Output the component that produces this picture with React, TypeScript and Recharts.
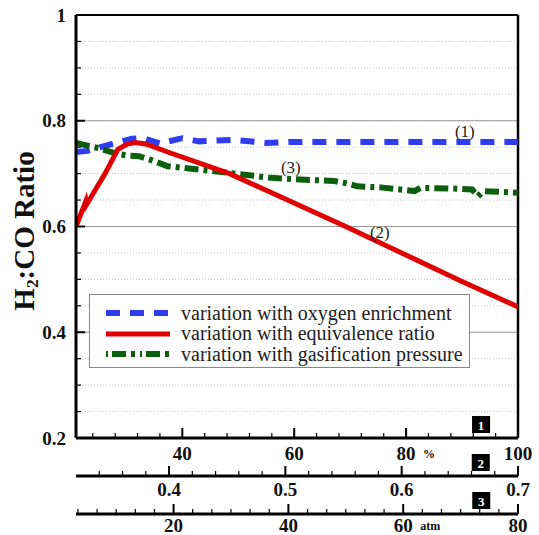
import {
  LineChart,
  Line,
  XAxis,
  YAxis,
  CartesianGrid,
  ReferenceLine,
  ReferenceDot,
} from "recharts";

const FONT = "'Liberation Serif', 'Times New Roman', serif";

// (1) oxygen enrichment, %
const oxygenPct = [21, 23, 27, 31, 33, 36, 40, 43, 49, 55, 60, 70, 80, 90, 100];
const oxygenH2CO = [0.741, 0.743, 0.755, 0.766, 0.767, 0.757, 0.767, 0.761, 0.764, 0.758, 0.76, 0.76, 0.76, 0.76, 0.76];

// (2) equivalence ratio
const eqRatio = [0.32, 0.3285, 0.329, 0.345, 0.356, 0.364, 0.371, 0.38, 0.4, 0.452, 0.5, 0.55, 0.6, 0.65, 0.7];
const eqH2CO = [0.6, 0.648, 0.641, 0.7, 0.746, 0.756, 0.759, 0.756, 0.74, 0.7, 0.652, 0.602, 0.55, 0.498, 0.448];

// (3) gasification pressure, atm
const pressureAtm = [3, 7, 10, 12, 14, 16, 19, 25, 30, 37, 42, 48, 50, 52, 56, 62, 63, 68, 72, 73, 74, 80];
const pressureH2CO = [0.758, 0.748, 0.738, 0.734, 0.733, 0.726, 0.714, 0.707, 0.701, 0.692, 0.689, 0.686, 0.682, 0.676, 0.674, 0.667, 0.673, 0.672, 0.67, 0.657, 0.667, 0.664];

// ticks
const yTicks = [0.2, 0.25, 0.3, 0.35, 0.4, 0.45, 0.5, 0.55, 0.6, 0.65, 0.7, 0.75, 0.8, 0.85, 0.9, 0.95, 1];
const yMajor = [0.2, 0.4, 0.6, 0.8, 1];
const yGridMajor = [0.4, 0.6, 0.8];

const pctMajor = [40, 60, 80, 100];
const pctMinor = [24, 28, 32, 36, 44, 48, 52, 56, 64, 68, 72, 76, 84, 88, 92, 96];
const erMajor = [0.4, 0.5, 0.6, 0.7];
const erMinor = [0.34, 0.36, 0.38, 0.42, 0.44, 0.46, 0.48, 0.52, 0.54, 0.56, 0.58, 0.62, 0.64, 0.66, 0.68];
const atmMajor = [20, 40, 60, 80];
const atmMinor = [3.33, 6.67, 10, 13.33, 16.67, 23.33, 26.67, 30, 33.33, 36.67, 43.33, 46.67, 50, 53.33, 56.67, 63.33, 66.67, 70, 73.33, 76.67];

// numbered boxes sit near the right end of each axis
const boxPct = 93.4;
const boxEr = 0.668;
const boxAtm = 73.6;

const zip = (xs: number[], ys: number[]) => xs.map((x, i) => ({ x, y: ys[i] }));

const oxygenData = zip(oxygenPct, oxygenH2CO);
const eqData = zip(eqRatio, eqH2CO);
const pressureData = zip(pressureAtm, pressureH2CO);

const BLUE = "#2f3cf0";
const RED = "#e00000";
const GREEN = "#0b5e0b";

// bottom axes are stacked by id: x1 nearest the plot, x3 farthest
const PCT = "x1";
const ER = "x2";
const ATM = "x3";

type TickCfg = {
  major: number[];
  box: number;
  boxLabel: string;
  unitAt?: number;
  unit?: string;
  dy: number;
};

const renderXTick = (props: any, cfg: TickCfg) => {
  const { x, y, payload } = props;
  const v = payload.value;
  if (v === cfg.box) {
    return (
      <g>
        <rect x={x - 9} y={y - 22} width={18} height={17} fill="#000" />
        <text
          x={x}
          y={y - 13}
          textAnchor="middle"
          dominantBaseline="central"
          fill="#fff"
          fontFamily={FONT}
          fontWeight="bold"
          fontSize={13}
        >
          {cfg.boxLabel}
        </text>
      </g>
    );
  }
  const major = cfg.major.includes(v);
  return (
    <g>
      <line
        x1={x}
        x2={x}
        y1={y}
        y2={y - (major ? 10 : 5)}
        stroke="#000"
        strokeWidth={major ? 2 : 1.2}
      />
      {major && (
        <text
          x={x}
          y={y + cfg.dy}
          textAnchor="middle"
          dominantBaseline="central"
          fill="#111"
          fontFamily={FONT}
          fontWeight="bold"
          fontSize={19}
        >
          {String(v)}
        </text>
      )}
      {major && cfg.unitAt === v && (
        <text
          x={x + 17}
          y={y + cfg.dy + 1}
          textAnchor="start"
          dominantBaseline="central"
          fill="#111"
          fontFamily={FONT}
          fontWeight="bold"
          fontSize={12}
        >
          {cfg.unit}
        </text>
      )}
    </g>
  );
};

const renderYTick = (props: any) => {
  const { x, y, payload } = props;
  const v = payload.value;
  const major = yMajor.includes(v);
  return (
    <g>
      <line
        x1={x}
        x2={x + (major ? 9 : 5)}
        y1={y}
        y2={y}
        stroke="#000"
        strokeWidth={major ? 2 : 1.2}
      />
      {major && (
        <text
          x={x - 10}
          y={y}
          textAnchor="end"
          dominantBaseline="central"
          fill="#111"
          fontFamily={FONT}
          fontWeight="bold"
          fontSize={19}
        >
          {String(v)}
        </text>
      )}
    </g>
  );
};

const legendRows = [
  { label: "variation with oxygen enrichment", color: BLUE, dash: "14 10", width: 6 },
  { label: "variation with equivalence ratio", color: RED, dash: undefined, width: 5 },
  { label: "variation with gasification pressure", color: GREEN, dash: "2 4 14 5 4 5", width: 6 },
];

const annotations = [
  { x: 90.5, y: 0.781, text: "(1)" },
  { x: 75.3, y: 0.5896, text: "(2)" },
  { x: 59.4, y: 0.7125, text: "(3)" },
];

const App = () => {
  return (
    <div
      style={{
        position: "absolute",
        left: 0,
        top: 0,
        width: 539,
        height: 535,
        background: "#fff",
        fontFamily: FONT,
      }}
    >
      <LineChart width={539} height={535} margin={{ top: 15, right: 21, left: 0, bottom: 0 }}>
        <CartesianGrid
          xAxisId={PCT}
          vertical={false}
          stroke="#c4c4c4"
          strokeDasharray="1 2"
        />
        <XAxis
          xAxisId={PCT}
          dataKey="x"
          type="number"
          domain={[21, 100]}
          allowDataOverflow
          ticks={[...pctMinor, ...pctMajor, boxPct].sort((a, b) => a - b)}
          interval={0}
          height={38}
          tickSize={0}
          tickMargin={0}
          tickLine={false}
          axisLine={{ stroke: "#000", strokeWidth: 3 }}
          tick={(p: any) =>
            renderXTick(p, { major: pctMajor, box: boxPct, boxLabel: "1", unitAt: 80, unit: "%", dy: 15 })
          }
        />
        <XAxis
          xAxisId={ER}
          dataKey="x"
          type="number"
          domain={[0.32, 0.7]}
          allowDataOverflow
          ticks={[...erMinor, ...erMajor, boxEr].sort((a, b) => a - b)}
          interval={0}
          height={38}
          tickSize={0}
          tickMargin={0}
          tickLine={false}
          axisLine={{ stroke: "#000", strokeWidth: 3 }}
          tick={(p: any) => renderXTick(p, { major: erMajor, box: boxEr, boxLabel: "2", dy: 13 })}
        />
        <XAxis
          xAxisId={ATM}
          dataKey="x"
          type="number"
          domain={[3, 80]}
          allowDataOverflow
          ticks={[...atmMinor, ...atmMajor, boxAtm].sort((a, b) => a - b)}
          interval={0}
          height={21}
          tickSize={0}
          tickMargin={0}
          tickLine={false}
          axisLine={{ stroke: "#000", strokeWidth: 3 }}
          tick={(p: any) =>
            renderXTick(p, { major: atmMajor, box: boxAtm, boxLabel: "3", unitAt: 60, unit: "atm", dy: 11 })
          }
        />
        <YAxis
          type="number"
          domain={[0.2, 1]}
          allowDataOverflow
          ticks={yTicks}
          interval={0}
          width={76}
          tickSize={0}
          tickMargin={0}
          tickLine={false}
          axisLine={{ stroke: "#000", strokeWidth: 3 }}
          tick={renderYTick}
        />
        {yGridMajor.map((v) => (
          <ReferenceLine key={v} xAxisId={PCT} y={v} stroke="#999" strokeWidth={1} />
        ))}
        <ReferenceLine xAxisId={PCT} y={1} stroke="#000" strokeWidth={2} />
        <ReferenceLine xAxisId={PCT} x={100} stroke="#000" strokeWidth={2.5} />
        <Line
          xAxisId={PCT}
          data={oxygenData}
          dataKey="y"
          type="linear"
          stroke={BLUE}
          strokeWidth={6}
          strokeDasharray="14 10"
          dot={false}
          isAnimationActive={false}
        />
        <Line
          xAxisId={ATM}
          data={pressureData}
          dataKey="y"
          type="linear"
          stroke={GREEN}
          strokeWidth={6}
          strokeDasharray="14 5 4 5"
          dot={false}
          isAnimationActive={false}
        />
        <Line
          xAxisId={ER}
          data={eqData}
          dataKey="y"
          type="linear"
          stroke={RED}
          strokeWidth={5}
          dot={false}
          isAnimationActive={false}
        />
        {annotations.map((a) => (
          <ReferenceDot
            key={a.text}
            xAxisId={PCT}
            x={a.x}
            y={a.y}
            r={0}
            fill="none"
            stroke="none"
            label={{
              value: a.text,
              position: "center",
              fill: "#222",
              fontSize: 17,
              fontFamily: FONT,
            }}
          />
        ))}
      </LineChart>

      <div
        style={{
          position: "absolute",
          left: 26,
          top: 231,
          transform: "translate(-50%, -50%) rotate(-90deg)",
          whiteSpace: "nowrap",
          fontFamily: FONT,
          fontWeight: "bold",
          fontSize: 29,
          color: "#111",
          lineHeight: 1,
        }}
      >
        H<sub style={{ fontSize: "0.6em", verticalAlign: "-0.25em" }}>2</sub>:CO Ratio
      </div>

      <div
        style={{
          position: "absolute",
          left: 89,
          top: 294,
          width: 381,
          height: 74,
          boxSizing: "border-box",
          border: "1px solid #888",
          background: "#fff",
          paddingTop: 8,
          fontFamily: FONT,
        }}
      >
        {legendRows.map((r) => (
          <div
            key={r.label}
            style={{
              display: "flex",
              alignItems: "center",
              height: 20.5,
              color: "#222",
              fontSize: 20,
              fontFamily: FONT,
            }}
          >
            <svg width={91} height={20} style={{ flex: "none" }}>
              <line
                x1={16}
                x2={80}
                y1={10}
                y2={10}
                stroke={r.color}
                strokeWidth={r.width}
                strokeDasharray={r.dash}
              />
            </svg>
            <span style={{ whiteSpace: "nowrap" }}>{r.label}</span>
          </div>
        ))}
      </div>
    </div>
  );
};

export default App;
